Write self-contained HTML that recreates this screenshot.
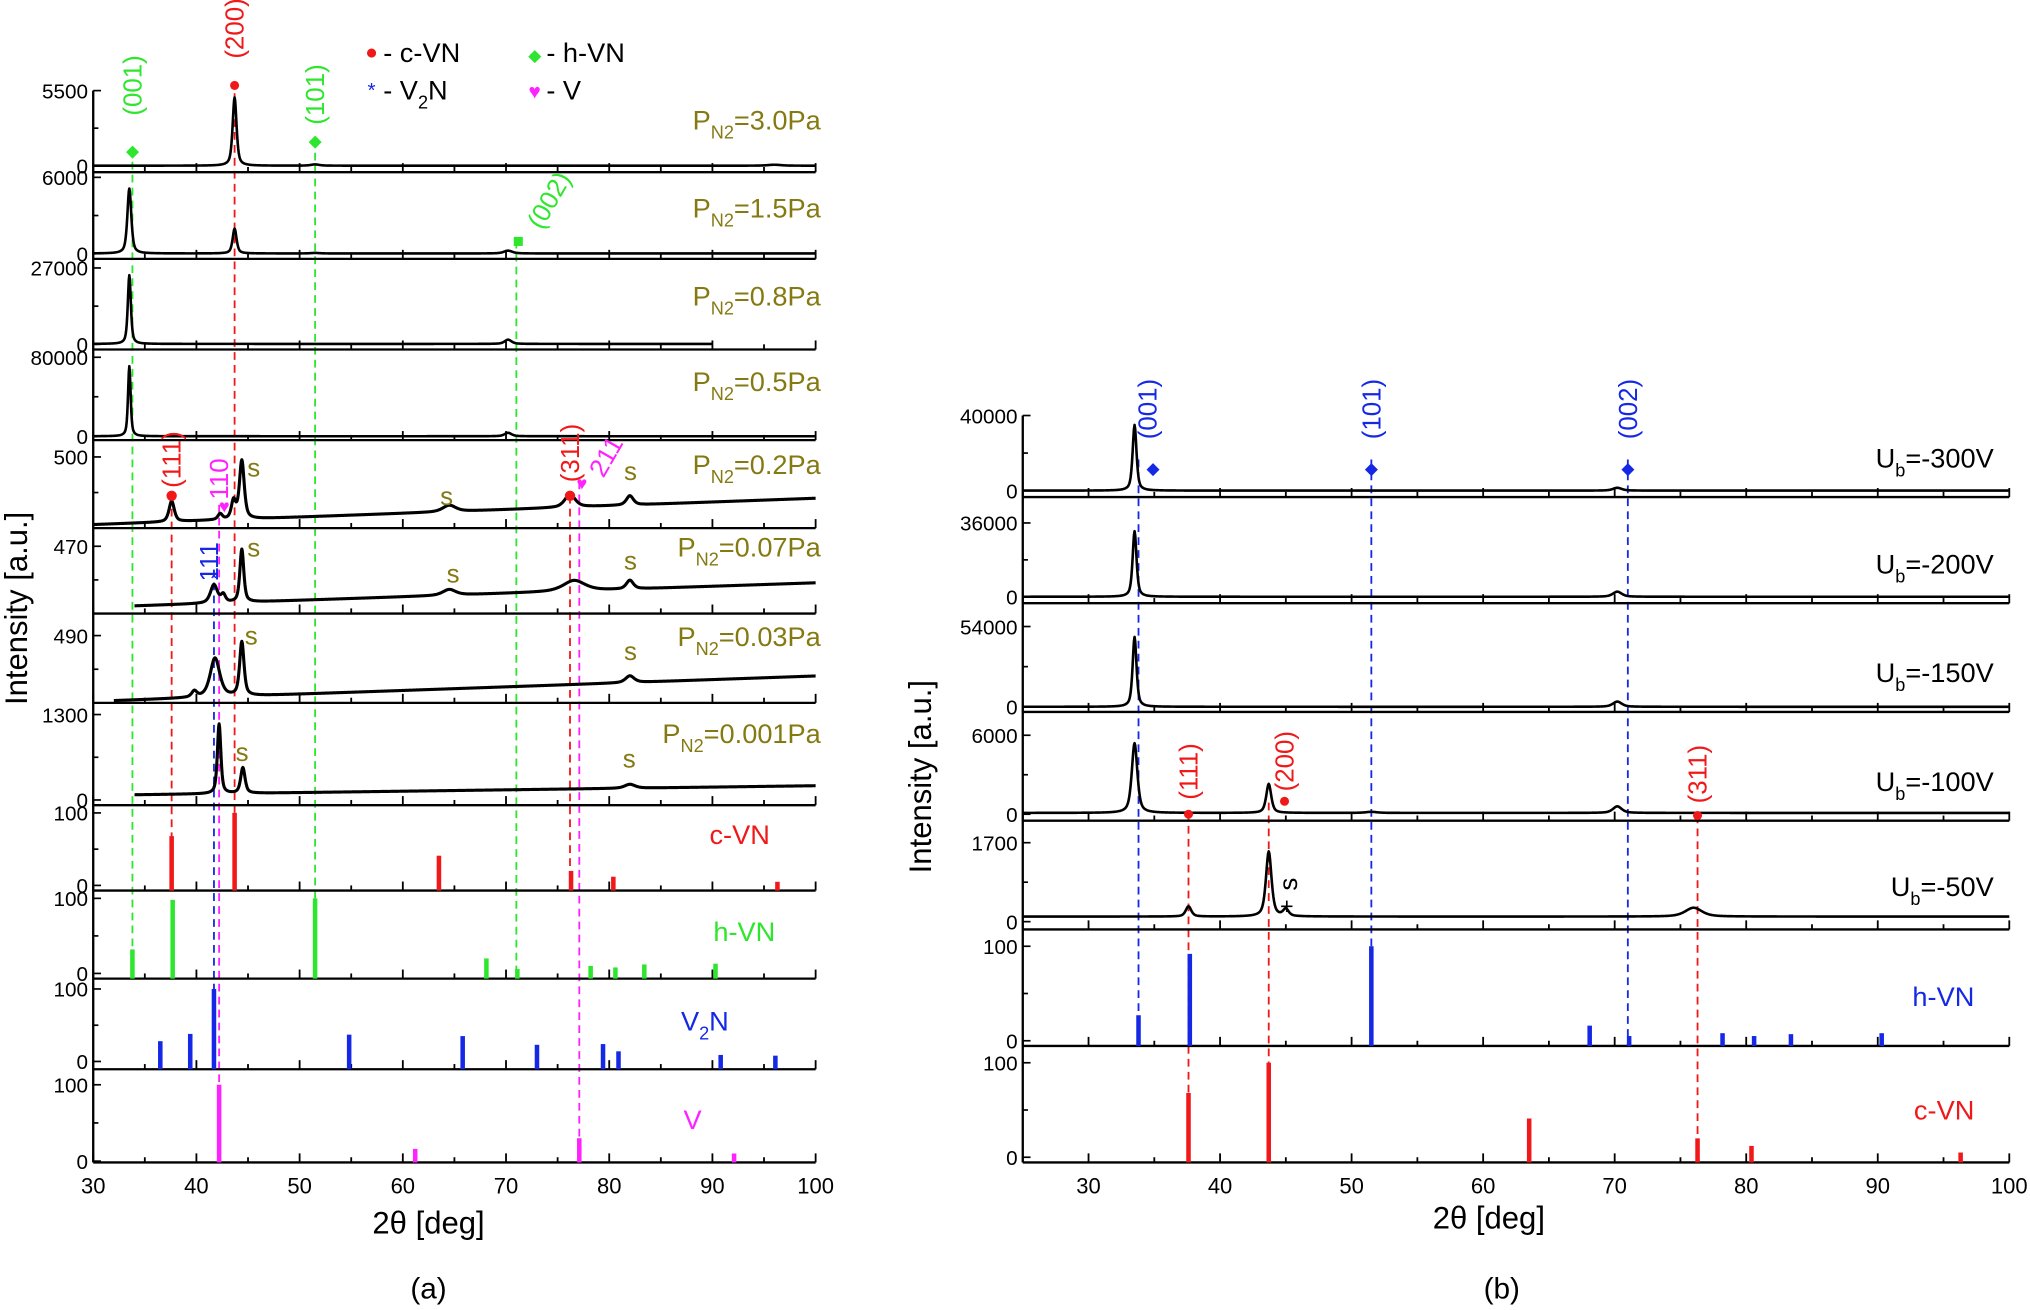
<!DOCTYPE html>
<html><head><meta charset="utf-8">
<style>
html,body{margin:0;padding:0;background:#fff;}
svg{display:block;font-family:"Liberation Sans",Arial,sans-serif;}
</style></head>
<body>
<svg id="chart" xmlns="http://www.w3.org/2000/svg" viewBox="0 0 1568 1012" width="2030" height="1310" preserveAspectRatio="none">
<rect x="0" y="0" width="1568" height="1012" fill="#fff"/>
</svg>
<script>
// ---------- DATA ----------
const xTickLabels = [30,40,50,60,70,80,90,100];
const pn2Labels = ['3.0','1.5','0.8','0.5','0.2','0.07','0.03','0.001'];
const leftTopTicks = [5500,6000,27000,80000,500,470,490,1300];
const leftZeroTicks = [0,0,0,0,400,400,400,0];
const leftShowZero = [true,true,true,true,false,false,false,true];
const leftRanges = [[30,100],[30,100],[30,90],[30,100],[30,100],[34,100],[32,100],[34,100]];
const leftBase = [[0,0],[20,20],[150,150],[0,0],[405,442],[408,432],[403,436],[79,217]];
const leftPeaks = [
 [[43.7,5000,0.45],[51.5,90,1.0],[96,70,1.5]],
 [[33.5,5100,0.45],[43.7,1950,0.45],[70.2,220,1.0],[51.5,40,1]],
 [[33.5,24300,0.35],[70.2,1500,0.8]],
 [[33.5,71000,0.3],[70.2,3500,0.8]],
 [[37.6,29,0.6],[42.3,8,0.5],[43.6,25,0.5],[44.4,82,0.55],[64.5,9,1.5],[76.2,18,1.2],[82,13,0.8]],
 [[41.7,19,0.8],[42.6,8,0.5],[44.4,55,0.45],[64.5,6,1.5],[76.6,11,2.5],[82,9,0.8]],
 [[39.8,8,0.6],[41.8,52,1.1],[44.4,72,0.5],[82,9,1.0]],
 [[42.2,1060,0.4],[44.5,390,0.5],[82,60,1.2]]
];
const ubLabels = ['-300V','-200V','-150V','-100V','-50V'];
const rightTopTicks = [40000,36000,54000,6000,1700];
const rightBase = [[0,0],[0,0],[0,0],[100,100],[110,110]];
const rightPeaks = [
 [[33.5,35000,0.35],[70.2,1500,0.8]],
 [[33.5,32000,0.35],[70.2,2500,0.8]],
 [[33.5,47000,0.35],[70.2,3500,0.8]],
 [[33.5,5300,0.5],[43.7,2200,0.45],[51.5,80,1.0],[70.2,500,0.8]],
 [[37.6,220,0.5],[43.7,1400,0.5],[45.0,150,0.5],[76.0,190,1.5]]
];
const refNames = ['c-VN','h-VN','V2N','V'];
const cvnPos = [37.6,43.7,63.5,76.3,80.4,96.3];
const cvnInt = [68,100,41,20,12,5];
const hvnPos = [33.8,37.7,51.5,68.1,71.1,78.2,80.6,83.4,90.3];
const hvnInt = [32,98,100,20,6,10,8,12,13];
const hvnIntB = [27,92,100,16,5,8,5,7,8];
const v2nPos = [36.5,39.4,41.7,54.8,65.8,73.0,79.4,80.9,90.8,96.1];
const v2nInt = [28,38,100,37,35,23,24,14,9,8];
const vPos = [42.2,61.2,77.1,92.1];
const vInt = [100,16,30,10];

// ---------- LAYOUT ----------
const svg = document.getElementById('chart');
const NS = 'http://www.w3.org/2000/svg';
function mk(tag, attrs, parent){const e=document.createElementNS(NS,tag);for(const k in attrs)e.setAttribute(k,attrs[k]);(parent||svg).appendChild(e);return e;}
const xL = v => 72 + (v-30)*(558/70);
const xR = v => 790 + (v-25)*(762/75);
const OLIVE='#857a12', RED='#f01818', GREEN='#2ee62e', BLUE='#1428e6', MAG='#ff22ff';
const leftLay = [[70,128,133],[137,196,200],[207,266,270],[276,337,340],[353,408,408],[422,474,474],[491,543,543],[552,618,622]];
const rightLay = [[321,379,384],[404,461,466],[484,546,550],[568,629,634],[651,712,718]];
const labYL = [100,168,236,302,366,430,499,574];
const labYR = [361,443,527,611,692];

function yAxis(v0,v1,y0,y1){return v => y0 + (v-v0)/(v1-v0)*(y1-y0);}

function curve(x, yf, range, base, peaks, sw, g){
  let d='';
  for(let t=range[0]; t<=range[1]+1e-9; t+=0.05){
    let v = base[0] + (base[1]-base[0])*(t-range[0])/(range[1]-range[0]);
    for(const p of peaks){const u=(t-p[0])/(p[2]/2); v += p[1]*(0.6/(1+u*u)+0.4*Math.exp(-0.693*u*u));}
    d += (d?'L':'M')+x(t).toFixed(2)+','+yf(v).toFixed(2);
  }
  const e = mk('path',{d:d,fill:'none',stroke:'#000','stroke-width':sw,'stroke-linejoin':'round'},g);
  return e;
}
function bottomLine(x, x0, x1, y, g){
  mk('line',{x1:x(x0),y1:y,x2:x(x1),y2:y,stroke:'#000','stroke-width':1.8},g);
  for(let t=Math.ceil(x0/5)*5; t<=x1; t+=5){
    const big = t%10===0;
    mk('line',{x1:x(t),y1:y,x2:x(t),y2:y-(big?7:4),stroke:'#000','stroke-width':1.4},g);
  }
}
function leftTicks(ax, yTop, yZero, topLab, zeroLab, showZero, g){
  mk('line',{x1:ax,y1:yTop,x2:ax+6,y2:yTop,stroke:'#000','stroke-width':1.3},g);
  mk('line',{x1:ax,y1:(yTop+yZero)/2,x2:ax+4,y2:(yTop+yZero)/2,stroke:'#000','stroke-width':1.3},g);
  const t1 = mk('text',{x:ax-4,y:yTop+6,'font-size':16,'text-anchor':'end'},g); t1.textContent=topLab;
  if(showZero){
    mk('line',{x1:ax,y1:yZero,x2:ax+6,y2:yZero,stroke:'#000','stroke-width':1.3},g);
    const t2 = mk('text',{x:ax-4,y:yZero+6,'font-size':16,'text-anchor':'end'},g); t2.textContent=zeroLab;
  }
}
function subLabel(x,y,main,sub,rest,color,g){
  const t = mk('text',{x:x,y:y,'font-size':21,'text-anchor':'end',fill:color},g);
  const a = mk('tspan',{},t); a.textContent=main;
  const b = mk('tspan',{'font-size':14,dy:7},t); b.textContent=sub;
  const c = mk('tspan',{dy:-7},t); c.textContent=rest;
  return t;
}
function txt(x,y,s,opt,g){const t=mk('text',Object.assign({x:x,y:y},opt),g);t.textContent=s;return t;}
function rot(x,y,s,color,ang,g,size){const t=mk('text',{x:0,y:0,transform:`translate(${x},${y}) rotate(${ang})`,'font-size':size||20,fill:color,'text-anchor':'middle'},g);t.textContent=s;return t;}
function dash(x,x0,y0,y1,color,g){return mk('line',{x1:x(x0),y1:y0,x2:x(x0),y2:y1,stroke:color,'stroke-width':1.4,'stroke-dasharray':'6,4'},g);}

// ---------- LEFT PANEL (a) ----------
const gA = mk('g',{});


mk('line',{x1:72,y1:70,x2:72,y2:898,stroke:'#000','stroke-width':1.8},gA);
const gDashA = mk('g',{},gA);


dash(xL,33.8,115,756,GREEN,gDashA); dash(xL,51.5,108,756,GREEN,gDashA); dash(xL,71.0,186,756,GREEN,gDashA);
dash(xL,43.7,72,688,RED,gDashA); dash(xL,37.6,383,688,RED,gDashA); dash(xL,76.2,383,688,RED,gDashA);
dash(xL,41.7,440,826,BLUE,gDashA); dash(xL,42.2,390,898,MAG,gDashA); dash(xL,77.1,372,898,MAG,gDashA);

for(let i=0;i<8;i++){
  const g = mk('g',{},gA);
  
  
  const [yt,yz,yl] = leftLay[i];
  const yf = yAxis(leftZeroTicks[i], leftTopTicks[i], yz, yt);
  bottomLine(xL,30,100,yl,g);
  leftTicks(72,yt,yz,String(leftTopTicks[i]),'0',leftShowZero[i],g);
  const c = curve(xL,yf,leftRanges[i],leftBase[i],leftPeaks[i], i>=4?2.4:2.0, g);
  
  
  const l = subLabel(634,labYL[i],'P','N2','='+pn2Labels[i]+'Pa',OLIVE,g);
  
  
}
const refLayA = [[628,684,688],[694,752,756],[764,820,826],[838,897,898]];
const refPosA = [cvnPos,hvnPos,v2nPos,vPos];
const refIntA = [cvnInt,hvnInt,v2nInt,vInt];
const refColA = [RED,GREEN,BLUE,MAG];
for(let i=0;i<4;i++){
  const g = mk('g',{},gA);
  
  
  const [yt,yz,yl]=refLayA[i];
  const yf = yAxis(0,100,yz,yt);
  bottomLine(xL,30,100,yl,g);
  leftTicks(72,yt,yz,'100','0',true,g);
  refPosA[i].forEach((p,j)=>{
    const b = mk('line',{x1:xL(p),y1:yl,x2:xL(p),y2:yf(refIntA[i][j]),stroke:refColA[i],'stroke-width':3.5},g);
    
    
  });
}
txt(548,652,'c-VN',{'font-size':21,fill:RED},gA);
txt(551,727,'h-VN',{'font-size':21,fill:GREEN},gA);
const v2 = mk('text',{x:526,y:796,'font-size':21,fill:BLUE},gA);
{const a=mk('tspan',{},v2);a.textContent='V';const b=mk('tspan',{'font-size':14,dy:7},v2);b.textContent='2';const c=mk('tspan',{dy:-7},v2);c.textContent='N';}
txt(528,872,'V',{'font-size':21,fill:MAG},gA);
xTickLabels.forEach(v=>{txt(xL(v),922,String(v),{'font-size':17,'text-anchor':'middle'},gA);});
const xtA = txt(331,953,'2θ [deg]',{'font-size':24,'text-anchor':'middle'},gA);


const ytA = mk('text',{transform:'translate(21,470) rotate(-90)','font-size':24,'text-anchor':'middle'},gA); ytA.textContent='Intensity [a.u.]';


const capA = txt(331,1003,'(a)',{'font-size':23,'text-anchor':'middle'},gA);


rot(xL(33.8)+7,66,'(001)',GREEN,-90,gA); txt(xL(33.8),121,'◆',{'font-size':13,fill:GREEN,'text-anchor':'middle'},gA);
rot(xL(43.7)+7,22,'(200)',RED,-90,gA); mk('circle',{cx:xL(43.7),cy:66,r:3.5,fill:RED},gA);
rot(xL(51.5)+7,73,'(101)',GREEN,-90,gA); txt(xL(51.5),113,'◆',{'font-size':13,fill:GREEN,'text-anchor':'middle'},gA);
rot(430,158,'(002)',GREEN,-60,gA); mk('rect',{x:xL(71.0)-2,y:183,width:7,height:7,fill:GREEN},gA);
rot(xL(37.6)+7,355,'(111)',RED,-90,gA); mk('circle',{cx:xL(37.6),cy:383,r:4,fill:RED},gA);
rot(xL(42.2)+7,370,'110',MAG,-90,gA); txt(xL(42.2)+4,396,'♥',{'font-size':14,fill:MAG,'text-anchor':'middle'},gA);
rot(xL(41.7)+3,434,'111',BLUE,-90,gA); txt(xL(41.7),452,'*',{'font-size':15,fill:BLUE,'text-anchor':'middle'},gA);
rot(xL(76.2)+7,350,'(311)',RED,-90,gA); mk('circle',{cx:xL(76.2),cy:383,r:4,fill:RED},gA);
rot(474,356,'211',MAG,-60,gA); txt(xL(77.1)+2,378,'♥',{'font-size':14,fill:MAG,'text-anchor':'middle'},gA);
[[196,368],[345,390],[487,371],[196,430],[350,450],[487,440],[194,498],[487,510],[187,588],[486,593]].forEach(p=>txt(p[0],p[1],'s',{'font-size':20,fill:OLIVE,'text-anchor':'middle'},gA));
const lg = mk('g',{},gA);


mk('circle',{cx:287,cy:41,r:3.5,fill:RED},lg); txt(296,48,'- c-VN',{'font-size':21},lg);
txt(413,47,'◆',{'font-size':13,fill:GREEN,'text-anchor':'middle'},lg); txt(422,48,'- h-VN',{'font-size':21},lg);
txt(287,75,'*',{'font-size':16,fill:BLUE,'text-anchor':'middle'},lg);
{const t=mk('text',{x:296,y:77,'font-size':21},lg);const a=mk('tspan',{},t);a.textContent='- V';const b=mk('tspan',{'font-size':14,dy:7},t);b.textContent='2';const c=mk('tspan',{dy:-7},t);c.textContent='N';}
txt(413,76,'♥',{'font-size':16,fill:MAG,'text-anchor':'middle'},lg); txt(422,77,'- V',{'font-size':21},lg);

// ---------- RIGHT PANEL (b) ----------
const gB = mk('g',{});


mk('line',{x1:790,y1:321,x2:790,y2:898,stroke:'#000','stroke-width':1.8},gB);
const gDashB = mk('g',{},gB);


dash(xR,33.8,355,808,BLUE,gDashB); dash(xR,51.5,355,808,BLUE,gDashB); dash(xR,71.0,355,808,BLUE,gDashB);
dash(xR,37.6,628,898,RED,gDashB); dash(xR,43.7,620,898,RED,gDashB); dash(xR,76.3,630,898,RED,gDashB);
for(let i=0;i<5;i++){
  const g = mk('g',{},gB);
  
  
  const [yt,yz,yl]=rightLay[i];
  const yf = yAxis(0,rightTopTicks[i],yz,yt);
  bottomLine(xR,25,100,yl,g);
  leftTicks(790,yt,yz,String(rightTopTicks[i]),'0',true,g);
  const c = curve(xR,yf,[25,100],rightBase[i],rightPeaks[i],2.0,g);
  
  
  const l = subLabel(1540,labYR[i],'U','b','='+ubLabels[i],'#000',g);
  
  
}
const refLayB = [[731,804,808],[821,894,898]];
const refPosB = [hvnPos,cvnPos], refIntB=[hvnIntB,cvnInt], refColB=[BLUE,RED], refNmB=['h-vn','c-vn'];
for(let i=0;i<2;i++){
  const g = mk('g',{},gB);
  
  
  const [yt,yz,yl]=refLayB[i];
  const yf=yAxis(0,100,yz,yt);
  bottomLine(xR,25,100,yl,g);
  leftTicks(790,yt,yz,'100','0',true,g);
  refPosB[i].forEach((p,j)=>{
    const b=mk('line',{x1:xR(p),y1:yl,x2:xR(p),y2:yf(refIntB[i][j]),stroke:refColB[i],'stroke-width':3.5},g);
    
    
  });
}
txt(1525,777,'h-VN',{'font-size':21,fill:BLUE,'text-anchor':'end'},gB);
txt(1525,865,'c-VN',{'font-size':21,fill:RED,'text-anchor':'end'},gB);
xTickLabels.forEach(v=>txt(xR(v),922,String(v),{'font-size':17,'text-anchor':'middle'},gB));
const xtB = txt(1150,949,'2θ [deg]',{'font-size':24,'text-anchor':'middle'},gB);


const ytB = mk('text',{transform:'translate(719,600) rotate(-90)','font-size':24,'text-anchor':'middle'},gB); ytB.textContent='Intensity [a.u.]';


const capB = txt(1160,1003,'(b)',{'font-size':23,'text-anchor':'middle'},gB);


rot(xR(33.8)+14,316,'(001)',BLUE,-90,gB); txt(xR(34.9),366,'◆',{'font-size':13,fill:BLUE,'text-anchor':'middle'},gB);
rot(xR(51.5)+7,316,'(101)',BLUE,-90,gB); txt(xR(51.5),366,'◆',{'font-size':13,fill:BLUE,'text-anchor':'middle'},gB);
rot(xR(71.0)+7,316,'(002)',BLUE,-90,gB); txt(xR(71.0),366,'◆',{'font-size':13,fill:BLUE,'text-anchor':'middle'},gB);
rot(xR(37.6)+7,596,'(111)',RED,-90,gB); mk('circle',{cx:xR(37.6),cy:629,r:3.5,fill:RED},gB);
rot(xR(44.9)+7,588,'(200)',RED,-90,gB); mk('circle',{cx:xR(44.9),cy:619,r:3.5,fill:RED},gB);
rot(xR(76.3)+7,598,'(311)',RED,-90,gB); mk('circle',{cx:xR(76.3),cy:630,r:3.5,fill:RED},gB);
rot(1002,683,'s',"#000",-90,gB,20);
txt(994,706,'+',{'font-size':18,'text-anchor':'middle'},gB);
</script>
</body></html>
